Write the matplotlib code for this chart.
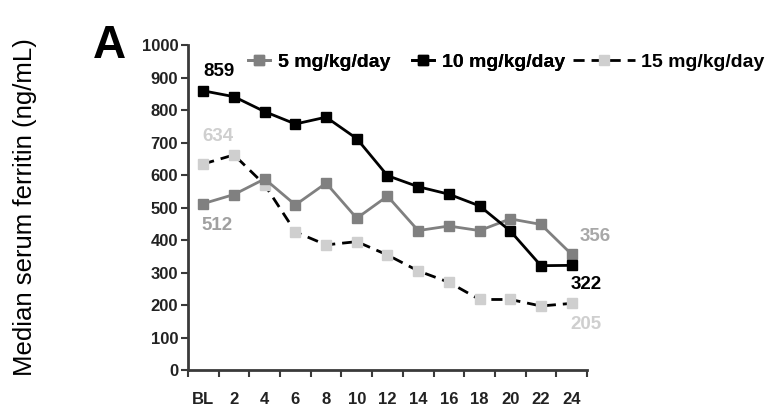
import matplotlib
matplotlib.use("Agg")
import matplotlib.pyplot as plt
import numpy as np

plt.rcParams['font.family'] = ['Liberation Sans', 'DejaVu Sans']

# weeks on treatment
weeks = ["BL", "2", "4", "6", "8", "10", "12", "14", "16", "18", "20", "22", "24"]

# median serum ferritin (ng/mL) per dose group
dose5 = [512, 540, 588, 508, 575, 467, 535, 429, 443, 429, 465, 448, 356]
dose10 = [859, 841, 795, 757, 778, 712, 598, 564, 541, 505, 428, 321, 322]
dose15 = [634, 662, 570, 425, 385, 395, 354, 305, 270, 217, 217, 197, 205]

series_names = ["5 mg/kg/day", "10 mg/kg/day", "15 mg/kg/day"]

gray = "#808080"
light = "#cfcfcf"
axis_col = "#3a3a3a"

fig = plt.figure(figsize=(7.71, 4.07), dpi=100)
ax = fig.add_axes([0.2438, 0.0909, 0.5175, 0.7985])

x = np.arange(len(weeks))

l5, = ax.plot(x, dose5, color=gray, lw=2, marker='s', ms=6.5, mfc=gray, mec=gray,
              label=series_names[0], zorder=3)
l10, = ax.plot(x, dose10, color='black', lw=2, marker='s', ms=6.5, mfc='black', mec='black',
               label=series_names[1], zorder=4)
l15, = ax.plot(x, dose15, color='black', lw=2, ls=(0, (4, 2.5)), marker='s', ms=6.5,
               mfc=light, mec=light, label=series_names[2], zorder=2)

ax.set_xlim(-0.5, len(weeks) - 0.5)
ax.set_ylim(0, 1000)
ax.set_yticks(np.arange(0, 1001, 100))
ax.set_xticks(x)
ax.set_xticklabels(weeks)
ax.set_xticks(np.arange(-0.5, len(weeks)), minor=True)

for s in ['top', 'right']:
    ax.spines[s].set_visible(False)
for s in ['left', 'bottom']:
    ax.spines[s].set_linewidth(2)
    ax.spines[s].set_color(axis_col)

ax.tick_params(axis='x', which='major', length=0, pad=16, labelsize=12)
ax.tick_params(axis='x', which='minor', length=5, width=1.5, color=axis_col)
ax.tick_params(axis='y', length=5, width=1.5, color=axis_col, pad=2, labelsize=12)
for lab in ax.get_xticklabels() + ax.get_yticklabels():
    lab.set_fontweight('bold')
    lab.set_color('#222222')

ax.set_ylabel("Median serum ferritin (ng/mL)", fontsize=18.5, labelpad=75)

# start / end values
lab_kw = dict(fontsize=13.5, fontweight='bold', textcoords='offset points', va='center')
ax.annotate(f"{dose10[0]}", (x[0], dose10[0]), xytext=(0, 14), ha='left',
            color='black', **lab_kw)
ax.annotate(f"{dose15[0]}", (x[0], dose15[0]), xytext=(-1, 19.5), ha='left',
            color=light, **lab_kw)
ax.annotate(f"{dose5[0]}", (x[0], dose5[0]), xytext=(-1, -16), ha='left',
            color='#a0a0a0', **lab_kw)
ax.annotate(f"{dose5[-1]}", (x[-1], dose5[-1]), xytext=(6, 13), ha='left',
            color='#a8a8a8', **lab_kw)
ax.annotate(f"{dose10[-1]}", (x[-1], dose10[-1]), xytext=(-1, -13.5), ha='left',
            color='black', **lab_kw)
ax.annotate(f"{dose15[-1]}", (x[-1], dose15[-1]), xytext=(-1, -15), ha='left',
            color=light, **lab_kw)

fig.text(0.121, 0.94, "A", fontsize=33, fontweight='bold', ha='left', va='top')

# legend: two short handles, then the longer dashed one
prop = dict(size=14, weight='bold')
leg1 = fig.legend([l5, l10], series_names[:2], loc='center left',
                  bbox_to_anchor=(248 / 771, 0.848), ncol=2, frameon=False,
                  handlelength=1.15, handletextpad=0.4, columnspacing=1.1,
                  prop=prop, borderaxespad=0, borderpad=0)
leg2 = fig.legend([l15], series_names[2:], loc='center left',
                  bbox_to_anchor=(573 / 771, 0.848), frameon=False,
                  handlelength=3.2, handletextpad=0.3,
                  prop=prop, borderaxespad=0, borderpad=0)
fig.add_artist(leg1)

fig.savefig("out.png", dpi=100)
